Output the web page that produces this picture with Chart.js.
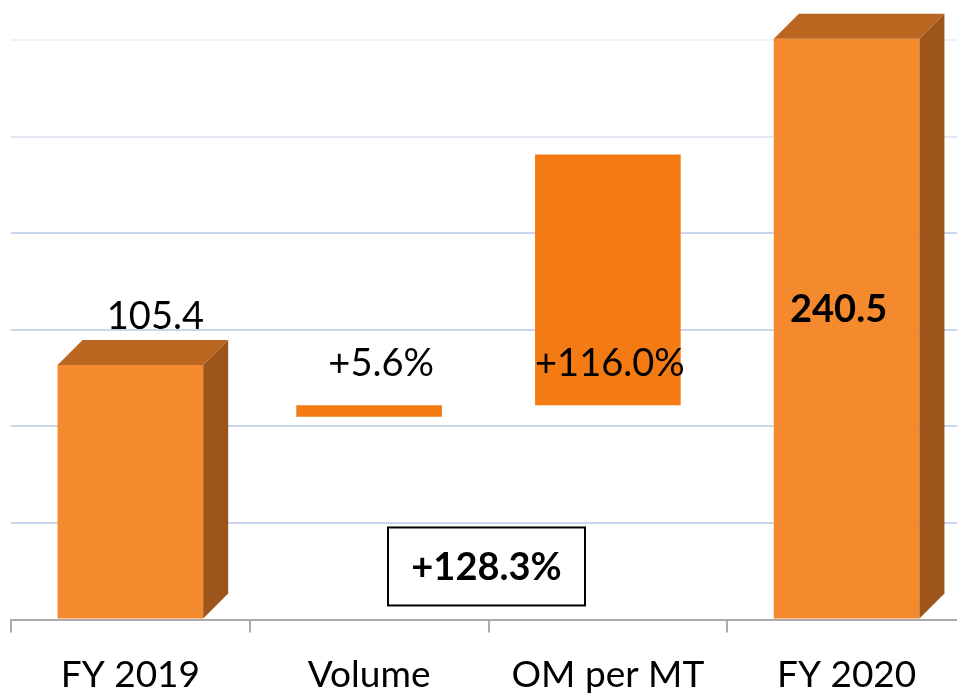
<!DOCTYPE html>
<html>
<head>
<meta charset="utf-8">
<script src="https://cdn.jsdelivr.net/npm/chart.js@4.4.0/dist/chart.umd.min.js"></script>
<style>
    html, body { margin: 0; padding: 0; background: #fff; overflow: hidden; }
    #wrap { width: 966px; height: 717px; position: relative; }
</style>
</head>
<body>
<div id="wrap"><canvas id="grafik"></canvas></div>
<script>
const CATEGORIES = ['FY 2019', 'Volume', 'OM per MT', 'FY 2020'];
const BAR_START = [0, 84.0, 88.8, 0];
const BAR_END = [105.4, 88.8, 192.6, 240.5];
const VALUE_LABELS = ['105.4', '+5.6%', '+116.0%', '240.5'];
const TOTAL_CHANGE = '+128.3%';
const Y_TICKS = [0, 40, 80, 120, 160, 200, 240];

const FONT = 'Lato, "Open Sans", sans-serif';
const DEPTH = 25;

// 3D look for the two totals (top + side faces)
const boxes3d = {
    id: 'boxes3d',
    afterDatasetsDraw(chart) {
        const ctx = chart.ctx;
        const meta = chart.getDatasetMeta(0);
        [0, 3].forEach(function (i) {
            const bar = meta.data[i];
            const half = bar.width / 2;
            const l = bar.x - half, r = bar.x + half;
            const t = bar.y, b = bar.base;
            ctx.save();
            ctx.fillStyle = '#BA6520';
            ctx.beginPath();
            ctx.moveTo(l, t);
            ctx.lineTo(l + DEPTH, t - DEPTH);
            ctx.lineTo(r + DEPTH, t - DEPTH);
            ctx.lineTo(r, t);
            ctx.closePath();
            ctx.fill();
            ctx.fillStyle = '#9C561A';
            ctx.beginPath();
            ctx.moveTo(r, t);
            ctx.lineTo(r + DEPTH, t - DEPTH);
            ctx.lineTo(r + DEPTH, b - DEPTH);
            ctx.lineTo(r, b);
            ctx.closePath();
            ctx.fill();
            ctx.restore();
        });
    }
};

const labels = {
    id: 'labels',
    afterDraw(chart) {
        const ctx = chart.ctx;
        const y = chart.scales.y;
        const x = chart.scales.x;
        const meta = chart.getDatasetMeta(0);
        const d = meta.data;
        ctx.save();
        ctx.fillStyle = '#000';
        ctx.textAlign = 'center';
        ctx.textBaseline = 'alphabetic';
        ctx.font = '38px ' + FONT;
        ctx.fillText(VALUE_LABELS[0], d[0].x + DEPTH, d[0].y - DEPTH - 11);
        ctx.fillText(VALUE_LABELS[1], d[1].x + 12, y.getPixelForValue(100.8));
        ctx.fillText(VALUE_LABELS[2], d[2].x + 2, y.getPixelForValue(100.8));
        ctx.font = 'bold 38px ' + FONT;
        ctx.fillText(VALUE_LABELS[3], d[3].x - 8, y.getPixelForValue(123.3));

        // total change box
        const cx = (x.getPixelForValue(1) + x.getPixelForValue(2)) / 2 - 2;
        const cy = y.getPixelForValue(22);
        const w = 197, h = 78;
        ctx.strokeStyle = '#000';
        ctx.lineWidth = 2;
        ctx.strokeRect(cx - w / 2, cy - h / 2, w, h);
        ctx.textBaseline = 'middle';
        ctx.fillText(TOTAL_CHANGE, cx, cy + 1);
        ctx.restore();
    }
};

const chart = new Chart(document.getElementById('grafik'), {
    type: 'bar',
    data: {
        labels: CATEGORIES,
        datasets: [
            {
                data: BAR_START.map(function (s, i) { return [s, BAR_END[i]]; }),
                backgroundColor: ['#F5892D', '#F47A14', '#F47A14', '#F5892D'],
                borderWidth: 0,
                categoryPercentage: 1,
                barPercentage: 0.61,
                clip: false
            }
        ]
    },
    options: {
        responsive: true,
        maintainAspectRatio: false,
        animation: false,
        layout: {
            padding: { left: 11, top: 40, right: 0, bottom: 0 }
        },
        plugins: {
            legend: { display: false },
            tooltip: { enabled: false }
        },
        scales: {
            x: {
                grid: {
                    drawOnChartArea: false,
                    drawTicks: true,
                    tickLength: 13,
                    color: '#ababab',
                    lineWidth: 2
                },
                border: { display: true, color: '#ababab', width: 2 },
                ticks: {
                    color: '#000',
                    padding: 20,
                    font: { family: FONT, size: 37 }
                }
            },
            y: {
                min: Y_TICKS[0],
                max: Y_TICKS[Y_TICKS.length - 1],
                afterBuildTicks: function (axis) {
                    axis.ticks = Y_TICKS.map(function (v) { return { value: v }; });
                },
                ticks: { display: false },
                border: { display: false },
                grid: {
                    drawTicks: false,
                    lineWidth: 2,
                    color: function (c) {
                        if (c.tick.value >= 240) return '#eef2f8';
                        if (c.tick.value >= 200) return '#e1e8f4';
                        return '#c9d6ee';
                    }
                }
            }
        }
    },
    plugins: [boxes3d, labels]
});
</script>
</body>
</html>
